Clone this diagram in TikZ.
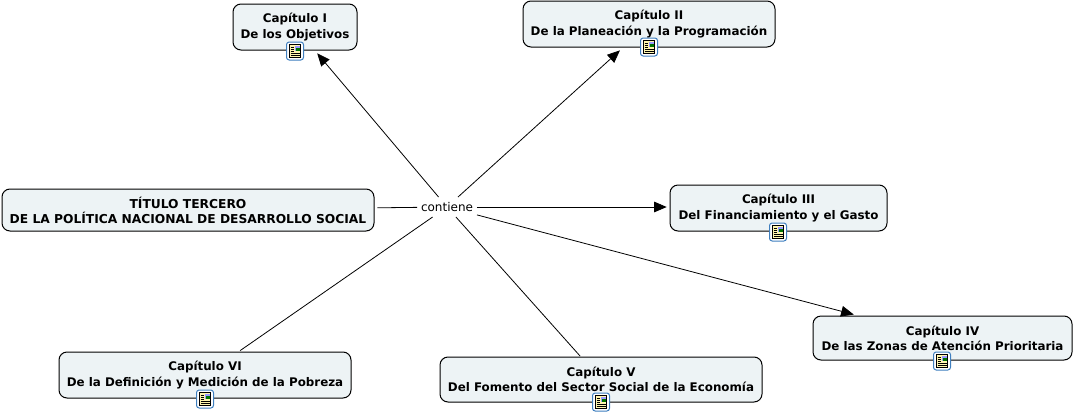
\documentclass[tikz,border=0pt]{standalone}
\usepackage{fontspec}
\setmainfont{DejaVu Sans}
\usetikzlibrary{arrows.meta}
\definecolor{boxfill}{HTML}{EDF3F5}
\definecolor{iconblue}{HTML}{3F7FBF}
\definecolor{iconpale}{HTML}{FFF6B0}
\tikzset{
  x=0.75pt,y=-0.75pt,
  concept/.style={draw=black,line width=0.75pt,fill=boxfill,rounded corners=6pt,inner sep=0pt,outer sep=2.5pt,align=center,font=\bfseries\fontsize{8.9pt}{11.4pt}\selectfont},
  linkword/.style={fill=white,inner sep=0pt,outer xsep=3pt,outer ysep=4pt,font=\fontsize{9pt}{11pt}\selectfont},
  conn/.style={draw=black,line width=0.6pt},
  arrowed/.style={conn,-{Triangle[length=9.5pt,width=8pt]}},
  pics/noteicon/.style={code={
    \draw[draw=iconblue,fill=white,line width=0.75pt,rounded corners=2pt] (-8.5,-9) rectangle (8.5,9);
    \draw[draw=black,fill=iconpale,line width=0.5pt] (-5.5,-6.5) rectangle (5.5,6.5);
    \fill[blue!40!white] (-0.5,-5.5) rectangle (4.8,-0.5);
    \fill[green!45!black] (1,-3) rectangle (4.8,-0.5);
    \foreach \yy in {-3.5,-1.5,0.5,2.5,4.5}{\draw[black,line width=0.4pt] (-4.5,\yy) -- (-1.5,\yy);}
    \draw[black,line width=0.4pt] (-1,2.5) -- (4.5,2.5) (-1,4.5) -- (4.5,4.5);
  }}
}
\newcommand{\cbox}[6]{\node[concept,minimum width=#3*0.75pt,minimum height=#4*0.75pt] (#5) at (#1,#2) {#6};}
\begin{document}
\begin{tikzpicture}
\useasboundingbox (0,0) rectangle (1073,414);
\cbox{295}{27}{124}{46}{capI}{Capítulo I\\De los Objetivos}
\cbox{649}{24}{252}{46}{capII}{Capítulo II\\De la Planeación y la Programación}
\cbox{778.5}{208}{217}{46}{capIII}{Capítulo III\\Del Financiamiento y el Gasto}
\cbox{942.5}{338}{259}{44}{capIV}{Capítulo IV\\De las Zonas de Atención Prioritaria}
\cbox{601}{379.5}{322}{45}{capV}{Capítulo V\\Del Fomento del Sector Social de la Economía}
\cbox{205}{375}{292}{46}{capVI}{Capítulo VI\\De la Definición y Medición de la Pobreza}
\cbox{188}{210}{372}{42}{titulo}{\fontsize{9.2pt}{11.4pt}\selectfont TÍTULO TERCERO\\\fontsize{9.2pt}{11.4pt}\selectfont DE LA POLÍTICA NACIONAL DE DESARROLLO SOCIAL}
\node[linkword] (link) at (447,207) {contiene};
\draw[conn] (titulo) -- (link);
\draw[arrowed] (link) -- (capI);
\draw[arrowed] (link) -- (capII);
\draw[arrowed] (link.east |- 0,207) -- (capIII.west |- 0,207);
\draw[arrowed,shorten >=-5.5pt] (link) -- (capIV);
\draw[conn,shorten >=-2.5pt] (link) -- (capV);
\draw[conn,shorten >=-2.5pt] (link) -- (capVI);
\pic at (295,51) {noteicon};
\pic at (649,47) {noteicon};
\pic at (778,232) {noteicon};
\pic at (942,361) {noteicon};
\pic at (601,402) {noteicon};
\pic at (205,399) {noteicon};
\end{tikzpicture}
\end{document}
